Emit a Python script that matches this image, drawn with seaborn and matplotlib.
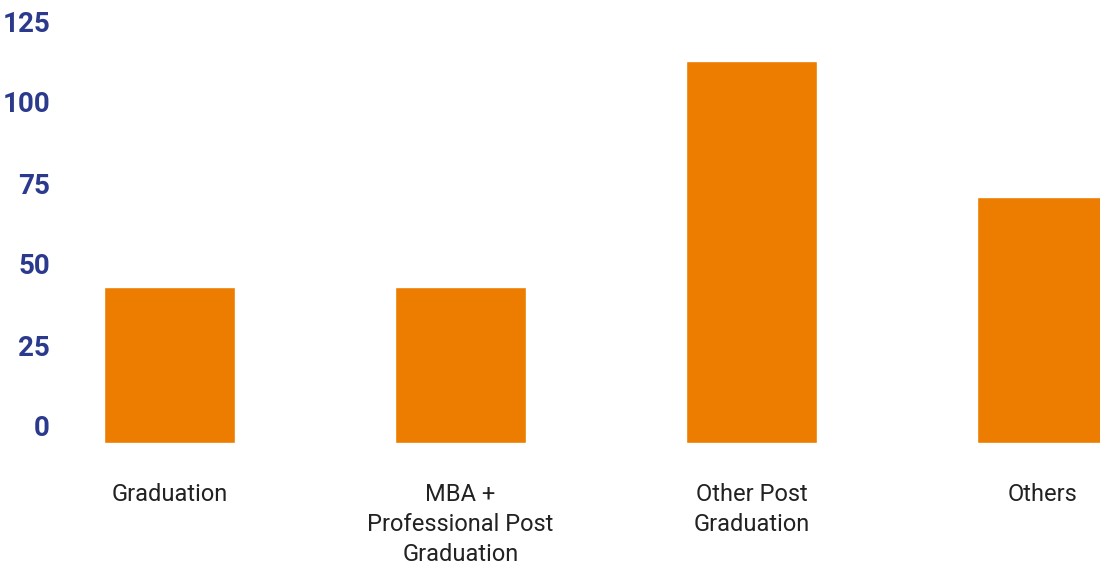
import matplotlib
matplotlib.use("Agg")
import matplotlib.pyplot as plt
import matplotlib.transforms as mtransforms
import seaborn as sns
import pandas as pd

categories = ["Graduation", "MBA +\nProfessional Post\nGraduation", "Other Post\nGraduation", "Others"]
values = [48, 48, 118, 76]
yticks = [0, 25, 50, 75, 100, 125]

sns.set_theme(style="white")
plt.rcParams["font.family"] = ["Roboto", "DejaVu Sans"]

W, H = 1100, 568
fig = plt.figure(figsize=(W / 100, H / 100), dpi=100)
left_px, right_px, top_px, bot_px = 60, 1100, 38, 443
ax = fig.add_axes([left_px / W, (H - bot_px) / H, (right_px - left_px) / W, (bot_px - top_px) / H])

df = pd.DataFrame({"cat": categories, "val": values})
sns.barplot(data=df, x="cat", y="val", color="#ED7D00", width=0.45, saturation=1, ax=ax)

# x limits so that bar centres land at 169.5 + 291*i px
x0 = (left_px - 169.5) / 291
x1 = (right_px - 169.5) / 291
ax.set_xlim(x0, x1)
ax.set_ylim(0, 125)

for s in ax.spines.values():
    s.set_visible(False)
ax.set_xlabel("")
ax.set_ylabel("")
ax.tick_params(axis="x", length=0, pad=29, labelsize=17, labelcolor="#222222")
for lab in ax.get_xticklabels():
    lab.set_linespacing(1.38)
ax.set_yticks(yticks)
ax.set_yticklabels([])
ax.tick_params(axis="y", length=0)
ax.grid(False)

offset = mtransforms.ScaledTranslation(-10 / 100, 14 / 100, fig.dpi_scale_trans)
trans = mtransforms.blended_transform_factory(ax.transAxes, ax.transData) + offset
for t in yticks:
    ax.text(0, t, str(t), transform=trans, ha="right", va="center",
            fontsize=20, fontweight="bold", color="#2B3A8C")

fig.savefig("out.png", dpi=100)
